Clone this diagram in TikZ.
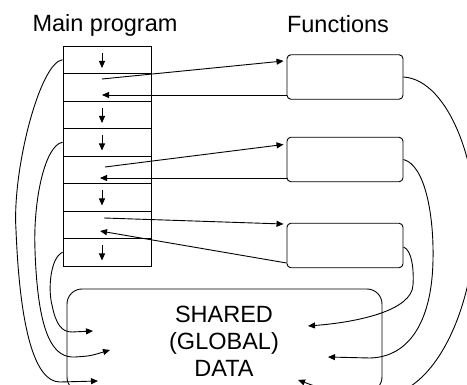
\documentclass[tikz,border=0pt]{standalone}
\usepackage{fontspec}
\setmainfont{Liberation Sans}
\usetikzlibrary{arrows.meta}
\begin{document}
\begin{tikzpicture}[x=1pt,y=-1pt,
  line width=0.9pt,
  tip/.style={-{Triangle[length=7pt,width=6pt]}},
  rowbox/.style={draw, minimum width=88pt, minimum height=27.5pt, inner sep=0pt},
  funbox/.style={draw, rounded corners=4pt, minimum width=116pt, minimum height=44.5pt, inner sep=0pt},
  sharedbox/.style={draw, rounded corners=15pt, minimum width=315pt, minimum height=103pt, inner sep=0pt},
  lbl/.style={font=\fontsize{23.5}{27}\selectfont, inner sep=0pt}
]
\useasboundingbox (0,0) rectangle (467,385);
\clip (0,0) rectangle (467,385);
% titles
\node[lbl, anchor=base] (tmain) at (105,32) {Main program};
\node[lbl, anchor=base] (tfun) at (338,33) {Functions};
% main program rows
\foreach \i in {1,...,8} \node[rowbox] (row\i) at (107,{46+27.5*(\i-0.5)}) {};
% functions
\node[funbox] (f1) at (345,77) {};
\node[funbox] (f2) at (345,159.5) {};
\node[funbox] (f3) at (345,245.5) {};
% shared data
\node[sharedbox] (sh) at (224.5,340.5) {};
\node[lbl, anchor=north, align=center] (shtext) at (224,306) {SHARED\\(GLOBAL)\\DATA};
% arrow tips inside shared box
\coordinate (sA) at (98,381);
\coordinate (sB) at (110,350);
\coordinate (sC) at (93,331);
\coordinate (sD) at (298,380);
\coordinate (sE) at (328,357);
\coordinate (sF) at (308,326);
% sequential flow arrows
\foreach \i in {1,3,4,6,8}
  \draw[tip] ([xshift=-5pt,yshift=6.75pt]row\i.center) -- ([xshift=-5pt,yshift=-8.25pt]row\i.center);
% calls and returns
\draw[tip] ([xshift=-5pt,yshift=8.25pt]row2.center) -- ([xshift=-3pt,yshift=16pt]f1.west);
\draw[tip] ([yshift=-18pt]f1.west) -- ([xshift=-5pt,yshift=-7.75pt]row2.center);
\draw[tip] ([xshift=-2pt,yshift=2.75pt]row5.center) -- ([xshift=-3pt,yshift=15pt]f2.west);
\draw[tip] ([yshift=-18.5pt]f2.west) -- ([xshift=-7pt,yshift=-8.25pt]row5.center);
\draw[tip] ([xshift=-3pt,yshift=6.75pt]row7.center) -- ([xshift=-3pt,yshift=21.5pt]f3.west);
\draw[tip] ([yshift=-17.5pt]f3.west) -- ([xshift=-7pt,yshift=-6.25pt]row7.center);
% main program to shared data
\draw[tip] (row1.west) .. controls (40,62) and (12,170) .. (16,230)
  .. controls (20,330) and (35,382) .. (60,382) -- (sA);
\draw[tip] (row4.west) .. controls (45,145) and (33,200) .. (35,250)
  .. controls (38,340) and (55,358) .. (75,357) .. controls (90,356) .. (sB);
\draw[tip] (row8.west) .. controls (50,258) and (48,290) .. (52,305)
  .. controls (56,325) and (62,332) .. (72,332) -- (sC);
% functions to shared data
\draw[tip] (f1.east) .. controls (450,80) and (480,170) .. (475,235)
  .. controls (470,310) and (440,375) .. (400,392)
  .. controls (360,404) and (320,388) .. (sD);
\draw[tip] (f2.east) .. controls (425,165) and (434,215) .. (433,260)
  .. controls (432,320) and (410,357) .. (370,358) -- (sE);
\draw[tip] ([yshift=-1.5pt]f3.east) .. controls (412,250) and (414,270) .. (413,285)
  .. controls (412,310) and (360,322) .. (sF);
\end{tikzpicture}
\end{document}
